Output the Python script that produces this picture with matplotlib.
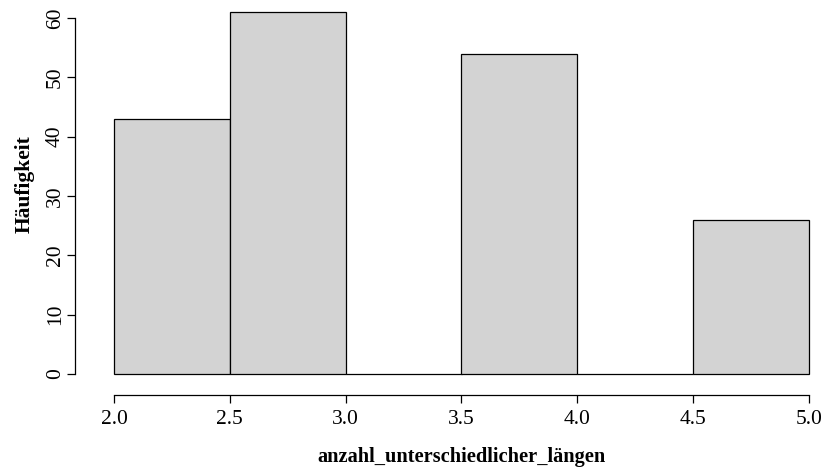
import matplotlib
matplotlib.use("Agg")
import matplotlib.pyplot as plt

# histogram of anzahl_unterschiedlicher_längen (R-style hist)
bin_edges = [2.0, 2.5, 3.0, 3.5, 4.0, 4.5, 5.0]
counts = [43, 61, 0, 54, 0, 26]
x_ticks = [2.0, 2.5, 3.0, 3.5, 4.0, 4.5, 5.0]
y_ticks = [0, 10, 20, 30, 40, 50, 60]

plt.rcParams['font.family'] = ['Liberation Serif', 'DejaVu Serif']

W, H = 826, 474
fig = plt.figure(figsize=(W / 100, H / 100), dpi=100)
# pixel box of the data area: x 2.0 -> 114px, 5.0 -> 809px ; y 0 -> 374px, 60 -> 18px
ax = fig.add_axes([114 / W, (H - 374) / H, (809 - 114) / W, (374 - 18) / H])

widths = [bin_edges[i + 1] - bin_edges[i] for i in range(len(counts))]
ax.bar(bin_edges[:-1], counts, width=widths, align='edge',
       color='#d3d3d3', edgecolor='black', linewidth=0.9, clip_on=False)

ax.set_xlim(2.0, 5.0)
ax.set_ylim(0, 60)
ax.set_xticks(x_ticks)
ax.set_xticklabels(['%.1f' % t for t in x_ticks])
ax.set_yticks(y_ticks)
ax.set_yticklabels([str(t) for t in y_ticks])

for s in ['top', 'right']:
    ax.spines[s].set_visible(False)
ax.spines['left'].set_position(('outward', 28))
ax.spines['bottom'].set_position(('outward', 15))
ax.spines['left'].set_bounds(0, 60)
ax.spines['bottom'].set_bounds(2.0, 5.0)
for s in ['left', 'bottom']:
    ax.spines[s].set_linewidth(0.9)

ax.tick_params(axis='both', direction='out', length=6, width=0.9, labelsize=15.5)
ax.tick_params(axis='x', pad=5)
ax.tick_params(axis='y', pad=1.5, labelrotation=90)
for lab in ax.get_yticklabels():
    lab.set_va('center')

ax.set_xlabel('anzahl_unterschiedlicher_längen', fontsize=14.7, fontweight='bold')
ax.set_ylabel('Häufigkeit', fontsize=15.5, fontweight='bold')
ax.xaxis.set_label_coords(0.5, -0.205)
ax.yaxis.set_label_coords(-0.114, 0.534)

fig.savefig('out.png', dpi=100)
